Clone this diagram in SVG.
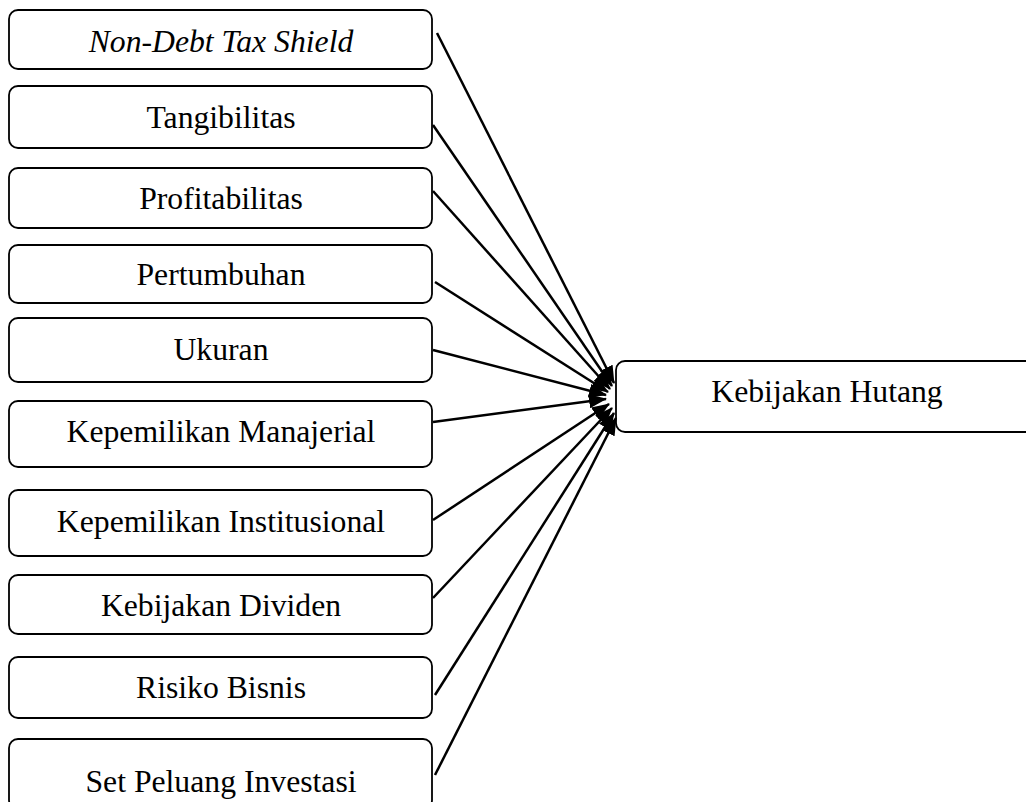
<svg xmlns="http://www.w3.org/2000/svg" width="1026" height="802" viewBox="0 0 1026 802">
<style>
.box{fill:#fff;stroke:#000;stroke-width:1.8}
.t{font-family:'Liberation Serif','Times New Roman','DejaVu Serif',serif;font-size:31.7px;fill:#000;text-anchor:middle}
.c{stroke:#000;stroke-width:2.5;fill:none;marker-end:url(#ah)}
</style>
<defs>
<marker id="ah" markerUnits="userSpaceOnUse" markerWidth="18" markerHeight="14" refX="17" refY="7" orient="auto">
<path d="M0,0 L18,7 L0,14 Z" fill="#000"/>
</marker>
</defs>
<rect width="1026" height="802" fill="#fff"/>
<g id="n1"><rect class="box" x="9" y="10" width="423" height="59" rx="9"/><text class="t" x="221" y="52" font-style="italic">Non-Debt Tax Shield</text></g>
<g id="n2"><rect class="box" x="9" y="86" width="423" height="62" rx="9"/><text class="t" x="221" y="128">Tangibilitas</text></g>
<g id="n3"><rect class="box" x="9" y="168" width="423" height="60" rx="9"/><text class="t" x="221" y="209">Profitabilitas</text></g>
<g id="n4"><rect class="box" x="9" y="245" width="423" height="58" rx="9"/><text class="t" x="221" y="285">Pertumbuhan</text></g>
<g id="n5"><rect class="box" x="9" y="318" width="423" height="64" rx="9"/><text class="t" x="221" y="360">Ukuran</text></g>
<g id="n6"><rect class="box" x="9" y="401" width="423" height="66" rx="9"/><text class="t" x="221" y="442">Kepemilikan Manajerial</text></g>
<g id="n7"><rect class="box" x="9" y="490" width="423" height="66" rx="9"/><text class="t" x="221" y="532">Kepemilikan Institusional</text></g>
<g id="n8"><rect class="box" x="9" y="575" width="423" height="59" rx="9"/><text class="t" x="221" y="616">Kebijakan Dividen</text></g>
<g id="n9"><rect class="box" x="9" y="657" width="423" height="61" rx="9"/><text class="t" x="221" y="698">Risiko Bisnis</text></g>
<g id="n10"><rect class="box" x="9" y="739" width="423" height="70" rx="9"/><text class="t" x="221" y="792">Set Peluang Investasi</text></g>
<g id="target"><rect class="box" x="616" y="361" width="430" height="71" rx="9"/><text class="t" x="827" y="402">Kebijakan Hutang</text></g>
<g id="connectors">
<line class="c" x1="437" y1="33" x2="614" y2="383"/>
<line class="c" x1="433" y1="125" x2="612" y2="386"/>
<line class="c" x1="433" y1="191" x2="610" y2="389"/>
<line class="c" x1="435" y1="282" x2="608" y2="392"/>
<line class="c" x1="433" y1="350" x2="606" y2="395"/>
<line class="c" x1="433" y1="422" x2="606" y2="399"/>
<line class="c" x1="433" y1="520" x2="609" y2="404"/>
<line class="c" x1="433" y1="598" x2="612" y2="408"/>
<line class="c" x1="435" y1="695" x2="614" y2="413"/>
<line class="c" x1="435" y1="775" x2="616" y2="418"/>
</g>
</svg>
